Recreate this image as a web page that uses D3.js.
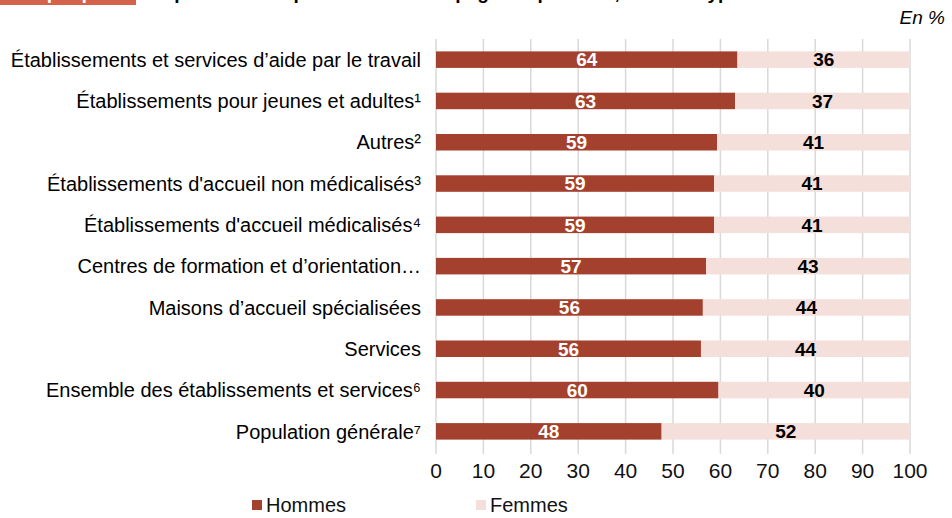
<!DOCTYPE html>
<html>
<head>
<meta charset="utf-8">
<script src="https://cdn.jsdelivr.net/npm/d3@7"></script>
<style>
  body { margin: 0; background: #fff; }
  text { font-family: "Liberation Sans", Arial, sans-serif; }
</style>
</head>
<body>
<svg width="952" height="518"></svg>
<script>
const categories = [
  "Établissements et services d’aide par le travail",
  "Établissements pour jeunes et adultes¹",
  "Autres²",
  "Établissements d'accueil non médicalisés³",
  "Établissements d'accueil médicalisés⁴",
  "Centres de formation et d’orientation…",
  "Maisons d’accueil spécialisées",
  "Services",
  "Ensemble des établissements et services⁶",
  "Population générale⁷"
];
const hommes = [63.6, 63.1, 59.3, 58.7, 58.7, 57.0, 56.3, 55.9, 59.6, 47.6];
const femmes = hommes.map(v => 100 - v);
const xTicks = [0, 10, 20, 30, 40, 50, 60, 70, 80, 90, 100];
const seriesNames = ["Hommes", "Femmes"];
const colors = ["#a4412e", "#f4dfdb"];

const svg = d3.select("svg");

// title strip, cut by the top edge as in the source
svg.append("rect").attr("x", 0).attr("y", 0).attr("width", 136).attr("height", 5).attr("fill", "#d5634b");
svg.append("text").attr("x", 14).attr("y", -1)
  .attr("fill", "#fff").attr("font-weight", "bold").attr("font-size", 19)
  .text("Graphique 1");
svg.append("text").attr("x", 150).attr("y", -1)
  .attr("fill", "#000").attr("font-weight", "bold").attr("font-size", 19)
  .text("Répartition des personnes accompagnées par sexe, selon le type de structure");

svg.append("text").attr("x", 945).attr("y", 24)
  .attr("text-anchor", "end").attr("font-style", "italic").attr("font-size", 19)
  .text("En %");

const x = d3.scaleLinear().domain([0, 100]).range([436, 910]);
const y = d3.scaleBand().domain(categories).range([39, 452]).paddingInner(0.6).paddingOuter(0.3);

// grid
svg.append("g").selectAll("line").data(xTicks).join("line")
  .attr("x1", d => x(d)).attr("x2", d => x(d))
  .attr("y1", 39).attr("y2", 454)
  .attr("stroke", "#d9d9d9").attr("stroke-width", 1.5);

const rows = svg.append("g").selectAll("g").data(categories).join("g");

rows.append("rect")
  .attr("x", x(0)).attr("y", d => y(d))
  .attr("width", (d, i) => x(hommes[i]) - x(0))
  .attr("height", y.bandwidth())
  .attr("fill", colors[0]);

rows.append("rect")
  .attr("x", (d, i) => x(hommes[i])).attr("y", d => y(d))
  .attr("width", (d, i) => x(100) - x(hommes[i]))
  .attr("height", y.bandwidth())
  .attr("fill", colors[1]);

rows.append("text")
  .attr("x", (d, i) => x(hommes[i] / 2))
  .attr("y", d => y(d) + y.bandwidth() / 2)
  .attr("dy", "0.36em").attr("text-anchor", "middle")
  .attr("fill", "#fff").attr("font-weight", "bold").attr("font-size", 19)
  .text((d, i) => Math.round(hommes[i]));

rows.append("text")
  .attr("x", (d, i) => x(hommes[i] + femmes[i] / 2))
  .attr("y", d => y(d) + y.bandwidth() / 2)
  .attr("dy", "0.36em").attr("text-anchor", "middle")
  .attr("fill", "#000").attr("font-weight", "bold").attr("font-size", 19)
  .text((d, i) => Math.round(femmes[i]));

rows.append("text")
  .attr("x", 421)
  .attr("y", d => y(d) + y.bandwidth() / 2)
  .attr("dy", "0.36em").attr("text-anchor", "end")
  .attr("fill", "#000").attr("font-size", 20)
  .text(d => d);

// x axis labels
svg.append("g").selectAll("text").data(xTicks).join("text")
  .attr("x", d => x(d)).attr("y", 478)
  .attr("text-anchor", "middle").attr("font-size", 21).attr("fill", "#111")
  .text(d => d);

// legend
const legend = svg.append("g").selectAll("g").data(seriesNames).join("g")
  .attr("transform", (d, i) => `translate(${252 + i * 224}, 0)`);
legend.append("rect").attr("x", 0).attr("y", 500).attr("width", 10).attr("height", 10)
  .attr("fill", (d, i) => colors[i]);
legend.append("text").attr("x", 14).attr("y", 512)
  .attr("font-size", 20).attr("fill", "#111").text(d => d);
</script>
</body>
</html>
